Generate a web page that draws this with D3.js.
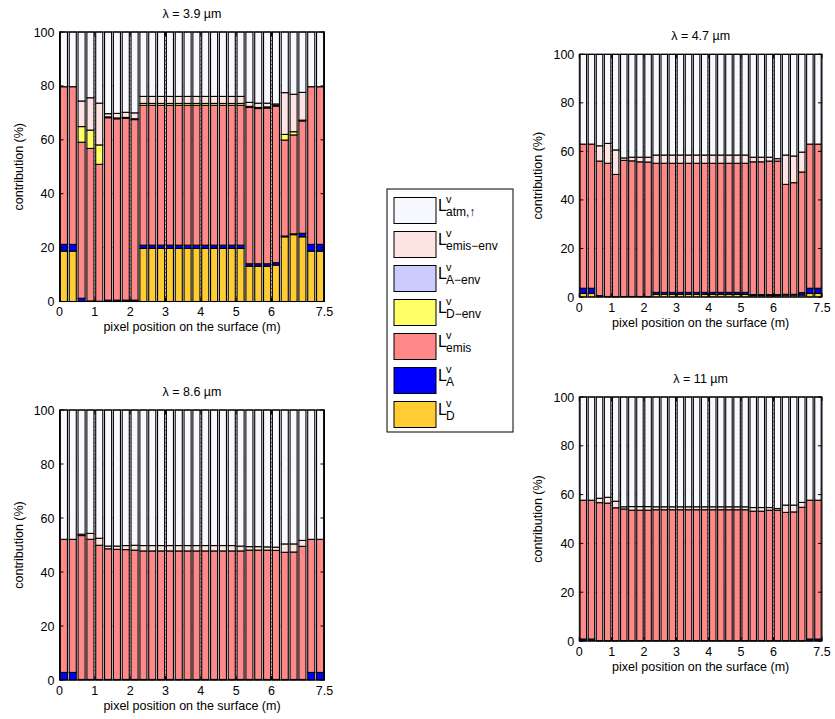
<!DOCTYPE html>
<html>
<head>
<meta charset="utf-8">
<script src="https://cdn.jsdelivr.net/npm/d3@7"></script>
<style>
  body { margin: 0; background: #fff; }
  svg { display: block; }
  text { font-family: "Liberation Sans", Arial, Helvetica, sans-serif; fill: #000; }
</style>
</head>
<body>
<svg id="fig" width="835" height="719"></svg>
<script>
// bar centres along the surface (m)
let pixelPos = [0.125, 0.375, 0.625, 0.875, 1.125, 1.375, 1.625, 1.875, 2.125, 2.375,
                2.625, 2.875, 3.125, 3.375, 3.625, 3.875, 4.125, 4.375, 4.625, 4.875,
                5.125, 5.375, 5.625, 5.875, 6.125, 6.375, 6.625, 6.875, 7.125, 7.375];

let xTicks = [0, 1, 2, 3, 4, 5, 6, 7.5];
let yTicks = [0, 20, 40, 60, 80, 100];

let zeros = [0,0,0,0,0,0,0,0,0,0,0,0,0,0,0,0,0,0,0,0,0,0,0,0,0,0,0,0,0,0];

// lambda = 3.9 um
let lam39_D       = [18.7,18.7,0,0,0,0,0,0,0,19.7,19.7,19.7,19.7,19.7,19.7,19.7,19.7,19.7,19.7,19.7,19.7,13.1,13.1,13.1,13.5,24.0,24.8,24.0,18.7,18.7];
let lam39_A       = [2.5,2.5,1.2,0.2,0.1,0.5,0.5,0.5,0.5,1.2,1.2,1.2,1.2,1.2,1.2,1.2,1.2,1.2,1.2,1.2,1.2,0.9,0.9,0.9,0.9,0.3,0.3,1.3,2.5,2.5];
let lam39_emis    = [58.5,58.5,57.9,56.6,50.8,67.7,67.3,67.5,67.0,51.9,51.9,51.9,51.9,51.9,51.9,51.9,51.9,51.9,51.9,51.9,51.9,58.0,57.6,57.8,58.1,35.6,36.7,41.7,58.5,58.5];
let lam39_Denv    = [0,0,5.8,6.8,7.2,0.3,0.3,0.3,0.3,0.7,0.7,0.7,0.7,0.7,0.7,0.7,0.7,0.7,0.7,0.7,0.7,0.4,0.4,0.4,0.3,2.1,1.2,0.3,0,0];
let lam39_emisEnv = [0,0,9.5,12.0,15.5,1.2,1.7,1.9,2.2,2.6,2.6,2.6,2.6,2.6,2.6,2.6,2.6,2.6,2.6,2.6,2.6,1.5,1.6,1.4,0.5,15.5,13.9,10.3,0,0];

// lambda = 4.7 um
let lam47_D       = [1.5,1.5,0,0,0,0,0,0,0,1.1,1.1,1.1,1.1,1.1,1.1,1.1,1.1,1.1,1.1,1.1,1.1,0.6,0.6,0.6,0.6,0.8,0.8,0.8,1.5,1.5];
let lam47_A       = [2.1,2.1,0.6,0.2,0.1,0.2,0.2,0.2,0.2,0.8,0.8,0.8,0.8,0.8,0.8,0.8,0.8,0.8,0.8,0.8,0.8,0.4,0.4,0.4,0.4,0.3,0.3,1.0,2.1,2.1];
let lam47_emis    = [59.4,59.4,55.4,54.9,50.4,56.1,55.9,55.5,55.4,53.2,53.2,53.2,53.2,53.2,53.2,53.2,53.2,53.2,53.2,53.2,53.2,54.7,54.7,55.0,55.0,45.3,46.0,49.7,59.4,59.4];
let lam47_emisEnv = [0,0,6.3,8.2,10.1,1.0,1.5,1.9,2.0,3.4,3.4,3.4,3.4,3.4,3.4,3.4,3.4,3.4,3.4,3.4,3.4,1.9,1.9,1.6,1.0,12.1,11.0,8.2,0,0];

// lambda = 8.6 um
let lam86_A       = [2.8,2.8,0.2,0.2,0.2,0.2,0.2,0.2,0.2,0.2,0.2,0.2,0.2,0.2,0.2,0.2,0.2,0.2,0.2,0.2,0.2,0.2,0.2,0.2,0.2,0.2,0.2,0.2,2.8,2.8];
let lam86_emis    = [49.3,49.3,53.3,51.9,49.7,48.4,48.2,48.1,47.9,47.6,47.6,47.6,47.6,47.6,47.6,47.6,47.6,47.6,47.6,47.6,47.6,47.9,47.9,47.9,47.8,47.1,47.2,49.3,49.3,49.3];
let lam86_emisEnv = [0,0,0.5,2.2,2.6,1.0,1.2,1.5,1.8,2.0,2.0,2.0,2.0,2.0,2.0,2.0,2.0,2.0,2.0,2.0,1.8,1.3,1.3,1.2,1.2,3.1,3.0,2.2,0,0];

// lambda = 11 um
let lam11_A       = [0.8,0.8,0.1,0.1,0.1,0.1,0.1,0.1,0.1,0.1,0.1,0.1,0.1,0.1,0.1,0.1,0.1,0.1,0.1,0.1,0.1,0.1,0.1,0.1,0.1,0.1,0.1,0.1,0.8,0.8];
let lam11_emis    = [56.9,56.9,56.6,56.4,54.5,54.0,53.5,53.5,53.5,53.7,53.7,53.7,53.7,53.7,53.7,53.7,53.7,53.7,53.7,53.7,53.7,53.1,53.1,53.5,53.5,52.6,52.8,54.7,56.9,56.9];
let lam11_emisEnv = [0,0,1.8,2.4,2.7,0.9,1.5,1.5,1.5,1.2,1.2,1.2,1.2,1.2,1.2,1.2,1.2,1.2,1.2,1.2,1.2,1.5,1.5,1.1,0.7,3.0,2.8,2.0,0,0];

// stacking order, bottom to top
let keys = ['D', 'A', 'emis', 'Denv', 'Aenv', 'emisEnv', 'atm'];
let colors = {
  D: '#ffcc33', A: '#0000ff', emis: '#ff8888', Denv: '#ffff66',
  Aenv: '#ccccff', emisEnv: '#ffe4e4', atm: '#f8f8ff'
};
let legendSubs = ['atm,\u2191', 'emis\u2212env', 'A\u2212env', 'D\u2212env', 'emis', 'A', 'D'];
let legendKeys = ['atm', 'emisEnv', 'Aenv', 'Denv', 'emis', 'A', 'D'];

let panels = [
  { title: '\u03bb = 3.9 \u00b5m', x0: 59.5, x1: 324.5, y0: 32, y1: 301.5,
    s: { D: lam39_D, A: lam39_A, emis: lam39_emis, Denv: lam39_Denv, Aenv: zeros, emisEnv: lam39_emisEnv } },
  { title: '\u03bb = 4.7 \u00b5m', x0: 579.3, x1: 822, y0: 54.3, y1: 297,
    s: { D: lam47_D, A: lam47_A, emis: lam47_emis, Denv: zeros, Aenv: zeros, emisEnv: lam47_emisEnv } },
  { title: '\u03bb = 8.6 \u00b5m', x0: 59.5, x1: 324.5, y0: 410, y1: 680,
    s: { D: zeros, A: lam86_A, emis: lam86_emis, Denv: zeros, Aenv: zeros, emisEnv: lam86_emisEnv } },
  { title: '\u03bb = 11 \u00b5m', x0: 579.3, x1: 822, y0: 397, y1: 641,
    s: { D: zeros, A: lam11_A, emis: lam11_emis, Denv: zeros, Aenv: zeros, emisEnv: lam11_emisEnv } }
];

let svg = d3.select('#fig');

panels.forEach(function(p) {
  let x = d3.scaleLinear().domain([0, 7.5]).range([p.x0, p.x1]);
  let y = d3.scaleLinear().domain([0, 100]).range([p.y1, p.y0]);

  let rows = pixelPos.map(function(pos, i) {
    let r = { pos: pos };
    let sum = 0;
    keys.slice(0, 6).forEach(k => { r[k] = p.s[k][i]; sum += p.s[k][i]; });
    r.atm = 100 - sum;
    return r;
  });
  let stacked = d3.stack().keys(keys)(rows);

  let g = svg.append('g');

  // dotted grid below the bars
  g.selectAll('.gx').data(xTicks.slice(1, -1)).enter().append('line')
    .attr('x1', d => x(d)).attr('x2', d => x(d))
    .attr('y1', p.y0).attr('y2', p.y1)
    .attr('stroke', '#444').attr('stroke-width', 0.8).attr('stroke-dasharray', '1,3');
  g.selectAll('.gy').data(yTicks.slice(1, -1)).enter().append('line')
    .attr('y1', d => y(d)).attr('y2', d => y(d))
    .attr('x1', p.x0).attr('x2', p.x1)
    .attr('stroke', '#444').attr('stroke-width', 0.8).attr('stroke-dasharray', '1,3');

  let barW = x(0.2) - x(0);
  g.selectAll('.layer').data(stacked).enter().append('g')
    .attr('fill', d => colors[d.key])
    .selectAll('rect').data(d => d).enter().append('rect')
      .attr('x', d => x(d.data.pos) - barW / 2)
      .attr('width', barW)
      .attr('y', d => y(d[1]))
      .attr('height', d => Math.max(0, y(d[0]) - y(d[1])))
      .attr('stroke', '#000').attr('stroke-width', 1.1);

  // box with inward ticks
  g.append('rect').attr('x', p.x0).attr('y', p.y0)
    .attr('width', p.x1 - p.x0).attr('height', p.y1 - p.y0)
    .attr('fill', 'none').attr('stroke', '#000').attr('stroke-width', 1);

  let tl = 4;
  xTicks.forEach(function(t) {
    g.append('line').attr('x1', x(t)).attr('x2', x(t)).attr('y1', p.y1).attr('y2', p.y1 - tl).attr('stroke', '#000');
    g.append('line').attr('x1', x(t)).attr('x2', x(t)).attr('y1', p.y0).attr('y2', p.y0 + tl).attr('stroke', '#000');
    g.append('text').attr('x', x(t)).attr('y', p.y1 + 14.5)
      .attr('text-anchor', 'middle').attr('font-size', 12.5).text(t);
  });
  yTicks.forEach(function(t) {
    g.append('line').attr('x1', p.x0).attr('x2', p.x0 + tl).attr('y1', y(t)).attr('y2', y(t)).attr('stroke', '#000');
    g.append('line').attr('x1', p.x1).attr('x2', p.x1 - tl).attr('y1', y(t)).attr('y2', y(t)).attr('stroke', '#000');
    g.append('text').attr('x', p.x0 - 5).attr('y', y(t) + 4.5)
      .attr('text-anchor', 'end').attr('font-size', 12.5).text(t);
  });

  g.append('text').attr('x', (p.x0 + p.x1) / 2).attr('y', p.y0 - 14)
    .attr('text-anchor', 'middle').attr('font-size', 12.5).text(p.title);
  g.append('text').attr('x', (p.x0 + p.x1) / 2).attr('y', p.y1 + 29.5)
    .attr('text-anchor', 'middle').attr('font-size', 12.5).text('pixel position on the surface (m)');
  g.append('text')
    .attr('transform', 'translate(' + (p.x0 - 37) + ',' + ((p.y0 + p.y1) / 2) + ') rotate(-90)')
    .attr('text-anchor', 'middle').attr('font-size', 12.5).text('contribution (%)');
});

// legend
let lg = svg.append('g');
lg.append('rect').attr('x', 387).attr('y', 189).attr('width', 126).attr('height', 243)
  .attr('fill', '#fff').attr('stroke', '#000').attr('stroke-width', 1);

let item = lg.selectAll('.item').data(legendKeys).enter().append('g')
  .attr('transform', (d, i) => 'translate(0,' + (197.5 + 34 * i) + ')');
item.append('rect').attr('x', 394).attr('y', 0).attr('width', 42).attr('height', 26)
  .attr('fill', d => colors[d]).attr('stroke', '#000').attr('stroke-width', 1);
item.append('text').attr('x', 438).attr('y', 13).attr('font-size', 16).text('L');
item.append('text').attr('x', 446).attr('y', 5).attr('font-size', 11).text('v');
item.append('text').attr('x', 446).attr('y', 18).attr('font-size', 12)
  .text((d, i) => legendSubs[i]);
</script>
</body>
</html>
